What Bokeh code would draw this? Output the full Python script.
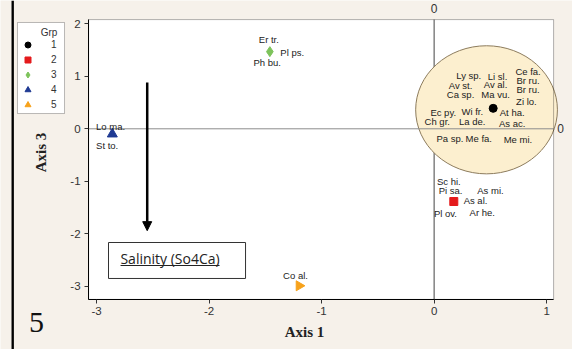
import numpy as np
from bokeh.plotting import figure
from bokeh.models import (Label, BoxAnnotation, Arrow, NormalHead,
                          FixedTicker, Legend, LegendItem, Range1d)
from bokeh.core.properties import value
from bokeh.embed import file_html
from bokeh.resources import INLINE

# ---- data -------------------------------------------------------------
groups = ["1", "2", "3", "4", "5"]
grp_x = [0.525, 0.175, -1.46, -2.86, -1.20]
grp_y = [0.39, -1.385, 1.47, -0.10, -2.99]
grp_colors = ["#000000", "#e41a1c", "#7dc35b", "#1f3a93", "#f7a21b"]
grp_markers = ["circle", "square", "diamond", "triangle", "triangle"]
grp_sizes = [8, 8, 10, 10, 10]
grp_angles = [0, 0, 0, 0, -np.pi / 2]

species = ["Ly sp.", "Li sl.", "Ce fa.", "Br ru.", "Av st.", "Av al.", "Br ru.",
           "Ca sp.", "Ma vu.", "Zi lo.", "Ec py.", "Wi fr.", "At ha.", "Ch gr.",
           "La de.", "As ac.", "Pa sp.", "Me fa.", "Me mi.",
           "Sc hi.", "Pi sa.", "As mi.", "As al.", "Pl ov.", "Ar he.",
           "Lo ma.", "St to.", "Er tr.", "Pl ps.", "Ph bu.", "Co al."]
sp_x = [0.308, 0.564, 0.835, 0.835, 0.235, 0.546, 0.835,
        0.235, 0.546, 0.820, 0.081, 0.339, 0.694, 0.028,
        0.339, 0.694, 0.140, 0.397, 0.745,
        0.131, 0.146, 0.501, 0.368, 0.101, 0.428,
        -2.876, -2.906, -1.469, -1.261, -1.484, -1.232]
sp_y = [1.015, 0.996, 1.097, 0.920, 0.825, 0.838, 0.743,
        0.648, 0.648, 0.526, 0.316, 0.330, 0.316, 0.145,
        0.145, 0.107, -0.190, -0.190, -0.210,
        -0.998, -1.175, -1.175, -1.366, -1.619, -1.589,
        0.044, -0.318, 1.695, 1.459, 1.257, -2.794]

circle_center = (0.466, 0.362)
circle_size = (1.26, 2.44)

x_ticks = [-3, -2, -1, 0, 1]
y_ticks = [-3, -2, -1, 0, 1, 2]

# plotting box (axis extents) and whole-canvas view
X_LO, X_HI = -3.071, 1.062
Y_LO, Y_HI = -3.25, 2.08
VIEW_X = (-3.854, 1.230)
VIEW_Y = (-4.204, 2.444)

BG = "#f6f1ea"

p = figure(width=572, height=349,
           x_range=Range1d(*VIEW_X), y_range=Range1d(*VIEW_Y),
           output_backend="svg", toolbar_location=None,
           min_border_left=0, min_border_right=0, min_border_top=0,
           min_border_bottom=0,
           background_fill_color=BG, border_fill_color=BG,
           outline_line_color=None)
p.xgrid.visible = False
p.ygrid.visible = False

p.xaxis.fixed_location = Y_LO
p.yaxis.fixed_location = X_LO
p.xaxis.bounds = (X_LO, X_HI)
p.yaxis.bounds = (Y_LO, Y_HI)
for ax, ticks in ((p.xaxis[0], x_ticks), (p.yaxis[0], y_ticks)):
    ax.ticker = FixedTicker(ticks=ticks)
    ax.major_label_overrides = {t: str(t) for t in ticks}
    ax.major_tick_in = 0
    ax.major_tick_out = 4
    ax.minor_tick_in = 0
    ax.minor_tick_out = 0
    ax.axis_line_color = "black"
    ax.major_tick_line_color = "#333333"
    ax.major_label_text_font = "Liberation Sans"
    ax.major_label_text_font_size = "11.5px"
    ax.major_label_text_color = "#333333"
    ax.major_label_standoff = 4

# white plotting box
p.add_layout(BoxAnnotation(left=X_LO, right=X_HI, bottom=Y_LO, top=Y_HI,
                           fill_color="white", fill_alpha=1, line_color=None,
                           level="underlay"))

# left page border line
p.add_layout(BoxAnnotation(left=-3.756, right=-3.735,
                           fill_color="black", fill_alpha=1, line_color=None,
                           level="underlay"))

# vertical reference line (beneath the circle)
p.segment(x0=[0], y0=[Y_LO], x1=[0], y1=[Y_HI], line_color="#444444", line_width=1)

# circle
p.ellipse(x=[circle_center[0]], y=[circle_center[1]],
          width=[circle_size[0]], height=[circle_size[1]],
          fill_color="#fcefcf", fill_alpha=1.0, line_color="#8c7b5c", line_width=1)

# horizontal reference line
p.segment(x0=[X_LO], y0=[0], x1=[X_HI], y1=[0], line_color="#8c8c8c", line_width=1)

# group points
renderers = []
for i in range(len(groups)):
    r = p.scatter(x=[grp_x[i]], y=[grp_y[i]], marker=grp_markers[i],
                  size=grp_sizes[i], angle=grp_angles[i],
                  fill_color=grp_colors[i], line_color=grp_colors[i])
    renderers.append(r)

# species labels
p.text(x=sp_x, y=sp_y, text=species, text_font=value("Liberation Sans"),
       text_font_size="9.5px", text_align="center", text_baseline="middle",
       text_color="#222222")

# frame outline on top
p.add_layout(BoxAnnotation(left=X_LO, right=X_HI, bottom=Y_LO, top=Y_HI,
                           fill_alpha=0, line_color="black", line_width=1))

# arrow
p.add_layout(Arrow(end=NormalHead(size=9, fill_color="black", line_color="black", line_width=1),
                   x_start=-2.55, y_start=0.88, x_end=-2.55, y_end=-1.94,
                   line_width=2.5, line_color="black"))

# salinity box
p.add_layout(BoxAnnotation(left=-2.894, right=-1.676, bottom=-2.851, top=-2.166,
                           fill_color="white", fill_alpha=1, line_color="#333333",
                           line_width=1, line_alpha=1))
p.add_layout(Label(x=-2.347, y=-2.470, text="Salinity (So4Ca)",
                   text_font="Open Sans", text_font_size="14px",
                   text_align="center", text_baseline="middle", text_color="#222222"))
p.add_layout(Arrow(end=None, x_start=-2.787, y_start=-2.604, x_end=-1.907, y_end=-2.604,
                   line_width=1, line_color="#222222"))

# texts outside the plotting box
p.add_layout(Label(x=-3.498, y=-0.451, text="Axis 3", angle=np.pi / 2,
                   text_font="Liberation Serif", text_font_style="bold",
                   text_font_size="15px", text_align="center", text_baseline="middle",
                   text_color="#222222"))
p.add_layout(Label(x=-1.152, y=-3.88, text="Axis 1",
                   text_font="Liberation Serif", text_font_style="bold",
                   text_font_size="15px", text_align="center", text_baseline="middle",
                   text_color="#222222"))
p.add_layout(Label(x=-3.534, y=-3.69, text="5", text_font="Liberation Serif",
                   text_font_size="30px", text_align="center", text_baseline="middle",
                   text_color="#111111"))
p.add_layout(Label(x=0, y=2.29, text="0", text_font="Liberation Sans",
                   text_font_size="12px", text_align="center", text_baseline="middle",
                   text_color="#333333"))
p.add_layout(Label(x=1.124, y=0, text="0", text_font="Liberation Sans",
                   text_font_size="12px", text_align="center", text_baseline="middle",
                   text_color="#333333"))

# legend: framed box, title label and items
p.add_layout(BoxAnnotation(left=-3.703, right=-3.285, bottom=0.291, top=2.025,
                           fill_color="white", fill_alpha=1, line_color="#222222",
                           line_width=1))
p.add_layout(Label(x=-3.423, y=1.834, text="Grp", text_font="Liberation Sans",
                   text_font_size="10px", text_align="center", text_baseline="middle",
                   text_color="#333333"))
items = [LegendItem(label=g, renderers=[r]) for g, r in zip(groups, renderers)]
legend = Legend(items=items, location=(20, 237),
                label_text_font="Liberation Sans", label_text_font_size="10px",
                label_text_color="#333333",
                glyph_height=15, glyph_width=15, label_height=15, label_width=6,
                label_standoff=16, spacing=0, padding=0, margin=0,
                border_line_color=None, background_fill_alpha=0)
p.add_layout(legend)

open("out.html", "w").write(file_html(p, INLINE))
